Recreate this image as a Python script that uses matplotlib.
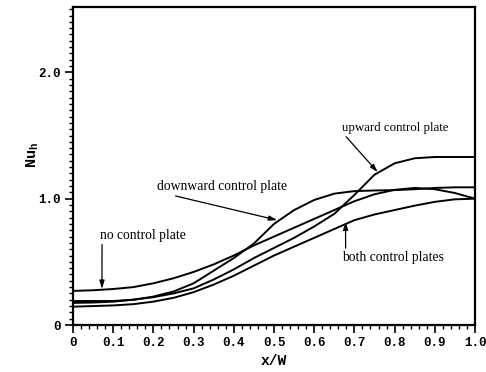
import matplotlib
matplotlib.use("Agg")
import matplotlib.pyplot as plt
from matplotlib.ticker import MultipleLocator

# ---- data ----
x_vals = [0.0, 0.05, 0.1, 0.15, 0.2, 0.25, 0.3, 0.35, 0.4, 0.45, 0.5,
          0.55, 0.6, 0.65, 0.7, 0.75, 0.8, 0.85, 0.9, 0.95, 1.0]
no_plate = [0.27, 0.275, 0.285, 0.30, 0.33, 0.37, 0.42, 0.48, 0.55, 0.63, 0.70,
            0.77, 0.84, 0.91, 0.98, 1.035, 1.07, 1.085, 1.075, 1.045, 1.00]
downward = [0.175, 0.178, 0.185, 0.20, 0.225, 0.265, 0.33, 0.43, 0.53, 0.645, 0.80,
            0.91, 0.99, 1.04, 1.06, 1.065, 1.068, 1.075, 1.085, 1.09, 1.09]
upward = [0.19, 0.19, 0.19, 0.20, 0.22, 0.25, 0.29, 0.36, 0.44, 0.53, 0.61,
          0.69, 0.78, 0.88, 1.03, 1.19, 1.28, 1.32, 1.33, 1.33, 1.33]
both = [0.145, 0.15, 0.155, 0.165, 0.185, 0.215, 0.26, 0.32, 0.39, 0.47, 0.55,
        0.62, 0.69, 0.76, 0.83, 0.875, 0.91, 0.945, 0.975, 0.995, 1.00]

x_ticks = [0.0, 0.1, 0.2, 0.3, 0.4, 0.5, 0.6, 0.7, 0.8, 0.9, 1.0]
x_ticklabels = ["0", "0.1", "0.2", "0.3", "0.4", "0.5", "0.6", "0.7", "0.8", "0.9", "1.0"]
y_ticks = [0.0, 1.0, 2.0]
y_ticklabels = ["0", "1.0", "2.0"]

labels = ["no control plate", "downward control plate", "upward control plate", "both control plates"]

# ---- figure ----
fig = plt.figure(figsize=(4.86, 3.72), dpi=100)
ax = fig.add_axes([73/486, 47/372, 402/486, 318.3/372])

for series in (no_plate, downward, upward, both):
    ax.plot(x_vals, series, color="black", lw=1.4, solid_capstyle="round")

ax.set_xlim(0, 1.0)
ax.set_ylim(0, 2.52)

ax.set_xticks(x_ticks)
ax.set_xticklabels(x_ticklabels)
ax.set_yticks(y_ticks)
ax.set_yticklabels(y_ticklabels)
ax.xaxis.set_minor_locator(MultipleLocator(0.02))
ax.yaxis.set_minor_locator(MultipleLocator(0.05))

mono = "Liberation Mono"
for lab in ax.get_xticklabels() + ax.get_yticklabels():
    lab.set_fontfamily(mono)
    lab.set_fontweight("bold")
    lab.set_fontsize(9)

ax.tick_params(which="major", direction="out", length=6, width=1.2, pad=3)
ax.tick_params(which="minor", direction="out", length=3, width=1.0)
ax.tick_params(top=False, right=False, which="both")

for s in ax.spines.values():
    s.set_linewidth(1.6)

ax.set_xlabel("x/W", fontfamily=mono, fontweight="bold", fontsize=10.5)
ax.xaxis.set_label_coords(0.5, -0.092)
ax.set_ylabel(r"Nu$_{\mathregular{h}}$", fontfamily=mono, fontweight="bold", fontsize=11)
ax.yaxis.set_label_coords(-0.08, 0.535)

serif = "Liberation Serif"
arrow = dict(arrowstyle="-|>,head_length=0.5,head_width=0.15", color="black", lw=0.9,
             shrinkA=0, shrinkB=0)

ax.annotate(labels[0], xy=(0.072, 0.285), xytext=(0.068, 0.71), fontsize=9.8,
            fontfamily=serif, ha="left", va="center",
            arrowprops=dict(arrow, relpos=(0.02, 0.0)))
ax.annotate(labels[1], xy=(0.508, 0.83), xytext=(0.21, 1.095), fontsize=9.8,
            fontfamily=serif, ha="left", va="center",
            arrowprops=dict(arrow, relpos=(0.05, 0.0)))
ax.annotate(labels[2], xy=(0.758, 1.21), xytext=(0.668, 1.56), fontsize=9.3,
            fontfamily=serif, ha="left", va="center",
            arrowprops=dict(arrow, relpos=(0.02, 0.0)))
ax.annotate(labels[3], xy=(0.678, 0.82), xytext=(0.668, 0.535), fontsize=9.8,
            fontfamily=serif, ha="left", va="center",
            arrowprops=dict(arrow, relpos=(0.04, 1.0)))

fig.savefig("out.png", dpi=100)
